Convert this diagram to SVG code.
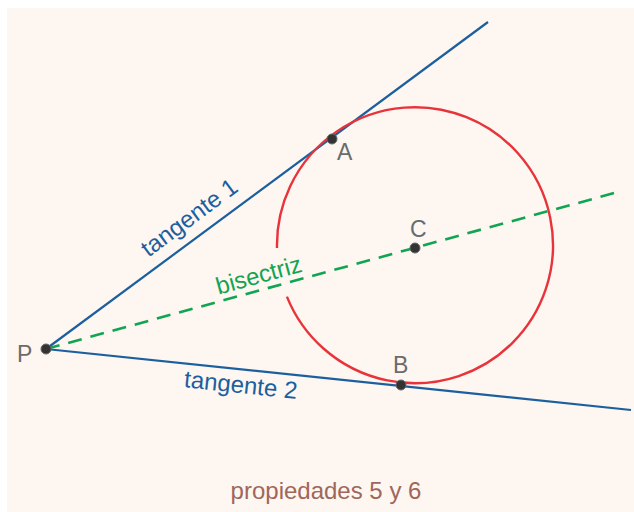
<svg xmlns="http://www.w3.org/2000/svg" width="634" height="512" viewBox="0 0 634 512">
<style>
.lbl{font-family:"Liberation Sans",Arial,sans-serif;font-size:23px;fill:#6b6b6b}
.tan{stroke:#1c5f9e;stroke-width:2.2;fill:none}
.tt{font-family:"Liberation Sans",Arial,sans-serif;font-size:24px;fill:#1c5f9e}
.pt{fill:#333;stroke:#666;stroke-width:1}
</style>
<rect x="7" y="8" width="627" height="504" fill="#fdf6f1"/>
<g id="connectors">
<line class="tan" x1="46" y1="349" x2="488" y2="22"/>
<line class="tan" x1="46" y1="349" x2="631" y2="410"/>
<line x1="46" y1="349" x2="618" y2="192" stroke="#10a552" stroke-width="2.6" stroke-dasharray="14,9" fill="none"/>
</g>
<g id="circle">
<path d="M 277 248 A 138 138 0 1 1 286.9 296.6" fill="none" stroke="#e8333a" stroke-width="2.4"/>
</g>
<g id="P"><circle class="pt" cx="46" cy="349" r="5"/><text class="lbl" x="17" y="362">P</text></g>
<g id="A"><circle class="pt" cx="332" cy="139" r="5"/><text class="lbl" x="337" y="160">A</text></g>
<g id="C"><circle class="pt" cx="415" cy="248" r="5"/><text class="lbl" x="410" y="237">C</text></g>
<g id="B"><circle class="pt" cx="401" cy="385" r="5"/><text class="lbl" x="393" y="373">B</text></g>
<g id="labels">
<text class="tt" text-anchor="middle" transform="translate(194,224) rotate(-36.5)">tangente 1</text>
<text class="tt" text-anchor="middle" transform="translate(240,393) rotate(6)">tangente 2</text>
<text text-anchor="middle" transform="translate(261,283) rotate(-15.4)" font-family="Liberation Sans, Arial, sans-serif" font-size="24" fill="#10a552">bisectriz</text>
<text x="326" y="499" text-anchor="middle" font-family="Liberation Sans, Arial, sans-serif" font-size="24" fill="#a0665a">propiedades 5 y 6</text>
</g>
</svg>
